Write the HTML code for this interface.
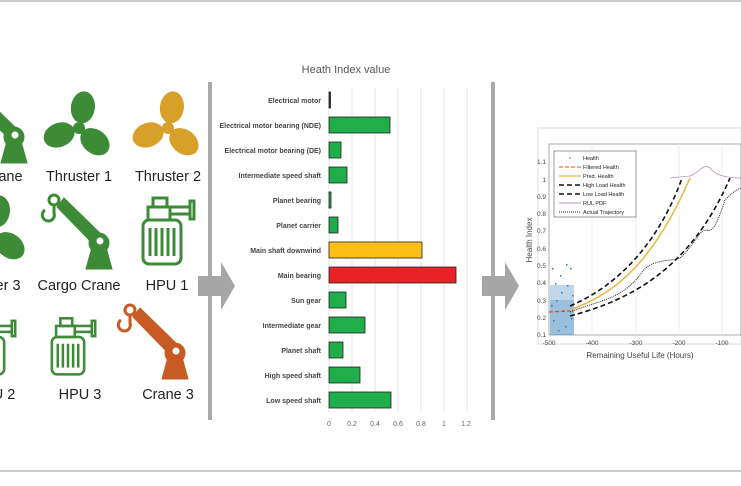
<!DOCTYPE html>
<html><head><meta charset="utf-8"><style>
body{margin:0;background:#fff;}
svg{display:block;font-family:"Liberation Sans",sans-serif;}
</style></head><body>
<svg width="741" height="486" viewBox="0 0 741 486" xmlns="http://www.w3.org/2000/svg">
<rect width="741" height="486" fill="#fff"/>
<line x1="0" y1="1" x2="741" y2="1" stroke="#999" stroke-width="1"/>
<line x1="0" y1="471" x2="741" y2="471" stroke="#999" stroke-width="1"/>
<defs>
<g id="prop"><circle cx="0" cy="0" r="6"/>
<ellipse cx="1" cy="-21" rx="12" ry="16" transform="rotate(8)"/>
<ellipse cx="1" cy="-21" rx="12" ry="16" transform="rotate(128)"/>
<ellipse cx="1" cy="-21" rx="12" ry="16" transform="rotate(248)"/></g>
<g id="crane">
<polygon points="-42,-36 -35,-45 5,-6 -3,4"/>
<polygon points="-7,4 -13,26 13,26 7,4"/>
<circle cx="0" cy="0" r="10"/>
<circle cx="1" cy="-2" r="4" fill="#fff"/>
<circle cx="-45" cy="-43" r="5" fill="none" stroke-width="3"/>
<path d="M-45,-38 L-45,-30 A6,6 0 1 1 -54,-33" fill="none" stroke-width="3"/>
</g>
<g id="hpu" fill="none" stroke-width="3">
<rect x="-19" y="0" width="38" height="44" rx="6"/>
<path d="M-12,8 v28 M-6,8 v28 M0,8 v28 M6,8 v28 M12,8 v28"/>
<rect x="-14" y="-13" width="22" height="13"/>
<rect x="-9" y="-22" width="14" height="9"/>
<rect x="8" y="-13" width="20" height="7"/>
<rect x="28" y="-19" width="4" height="18"/>
</g>
</defs>
<!-- icons -->
<g fill="#3d8b37" stroke="#3d8b37"><use href="#crane" x="14" y="137"/></g>
<g fill="#3d8b37"><use href="#prop" x="79" y="128"/></g>
<g fill="#d9a029"><use href="#prop" x="168" y="128"/></g>
<g font-size="14.5" fill="#222" text-anchor="middle">
<text x="8" y="181">rane</text><text x="79" y="181">Thruster 1</text><text x="168" y="181">Thruster 2</text>
<text x="6" y="290">ter 3</text><text x="79" y="290">Cargo Crane</text><text x="167" y="290">HPU 1</text>
<text x="4" y="399">U 2</text><text x="80" y="399">HPU 3</text><text x="168" y="399">Crane 3</text>
</g>
<g fill="#3d8b37"><use href="#prop" x="-6" y="232"/></g>
<g fill="#3d8b37" stroke="#3d8b37"><use href="#crane" x="99" y="243"/></g>
<g stroke="#3d8b37"><use href="#hpu" x="162" y="220"/></g>
<g stroke="#3d8b37"><use href="#hpu" transform="translate(-12,337) scale(0.85)"/></g>
<g stroke="#3d8b37"><use href="#hpu" transform="translate(68,337) scale(0.85)"/></g>
<g fill="#c85a24" stroke="#c85a24"><use href="#crane" x="175" y="353"/></g>
<!-- separators -->
<rect x="208" y="82" width="4" height="338" fill="#aaa"/>
<rect x="491" y="82" width="4" height="338" fill="#aaa"/>
<polygon points="198,276 221,276 221,262 235,286 221,310 221,296 198,296" fill="#a6a6a6"/>
<polygon points="482,276 505,276 505,262 519,286 505,310 505,296 482,296" fill="#a6a6a6"/>
<!-- bar chart -->
<text x="346" y="73" font-size="11" fill="#555" text-anchor="middle">Heath Index value</text>
<g stroke="#e4e4e4"><line x1="329" y1="88" x2="329" y2="412"/><line x1="352" y1="88" x2="352" y2="412"/><line x1="375" y1="88" x2="375" y2="412"/><line x1="398" y1="88" x2="398" y2="412"/><line x1="421" y1="88" x2="421" y2="412"/><line x1="444" y1="88" x2="444" y2="412"/><line x1="467" y1="88" x2="467" y2="412"/></g>
<g font-size="7" fill="#666" text-anchor="middle"><text x="329" y="426">0</text><text x="352" y="426">0.2</text><text x="375" y="426">0.4</text><text x="398" y="426">0.6</text><text x="421" y="426">0.8</text><text x="444" y="426">1</text><text x="466" y="426">1.2</text></g>
<g font-size="7" font-weight="bold" fill="#444" text-anchor="end">
<text x="321" y="103">Electrical motor</text>
<text x="321" y="128">Electrical motor bearing (NDE)</text>
<text x="321" y="153">Electrical motor bearing (DE)</text>
<text x="321" y="178">Intermediate speed shaft</text>
<text x="321" y="203">Planet bearing</text>
<text x="321" y="228">Planet carrier</text>
<text x="321" y="253">Main shaft downwind</text>
<text x="321" y="278">Main bearing</text>
<text x="321" y="303">Sun gear</text>
<text x="321" y="328">Intermediate gear</text>
<text x="321" y="353">Planet shaft</text>
<text x="321" y="378">High speed shaft</text>
<text x="321" y="403">Low speed shaft</text>
</g>
<g stroke="#222" stroke-width="0.8">
<rect x="329" y="92" width="1.5" height="16" fill="#333"/>
<rect x="329" y="117" width="61" height="16" fill="#1fae4a"/>
<rect x="329" y="142" width="12" height="16" fill="#1fae4a"/>
<rect x="329" y="167" width="18" height="16" fill="#1fae4a"/>
<rect x="329" y="192" width="2" height="16" fill="#1fae4a"/>
<rect x="329" y="217" width="9" height="16" fill="#1fae4a"/>
<rect x="329" y="242" width="93" height="16" fill="#fbbf18"/>
<rect x="329" y="267" width="127" height="16" fill="#e92228"/>
<rect x="329" y="292" width="17" height="16" fill="#1fae4a"/>
<rect x="329" y="317" width="36" height="16" fill="#1fae4a"/>
<rect x="329" y="342" width="14" height="16" fill="#1fae4a"/>
<rect x="329" y="367" width="31" height="16" fill="#1fae4a"/>
<rect x="329" y="392" width="62" height="16" fill="#1fae4a"/>
</g>
<!-- RUL plot -->
<rect x="538" y="128" width="203" height="216" fill="#fff" stroke="#ddd"/>
<rect x="549" y="144" width="192" height="191" fill="#fff" stroke="#888" stroke-width="0.7"/>
<g stroke="#eee"><line x1="592" y1="144" x2="592" y2="335"/><line x1="636" y1="144" x2="636" y2="335"/><line x1="679" y1="144" x2="679" y2="335"/><line x1="722" y1="144" x2="722" y2="335"/></g>
<g font-size="6.5" fill="#444" text-anchor="end">
<text x="546" y="164">1.1</text><text x="546" y="182">1</text><text x="546" y="199">0.9</text><text x="546" y="216">0.8</text><text x="546" y="233">0.7</text><text x="546" y="251">0.6</text><text x="546" y="268">0.5</text><text x="546" y="285">0.4</text><text x="546" y="303">0.3</text><text x="546" y="320">0.2</text><text x="546" y="337">0.1</text>
</g>
<g font-size="6.5" fill="#444" text-anchor="middle"><text x="549" y="345">-500</text><text x="592" y="345">-400</text><text x="636" y="345">-300</text><text x="679" y="345">-200</text><text x="722" y="345">-100</text></g>
<text x="640" y="358" font-size="8" fill="#444" text-anchor="middle">Remaining Useful Life (Hours)</text>
<text x="532" y="240" font-size="8" fill="#444" text-anchor="middle" transform="rotate(-90 532 240)">Health Index</text>
<g fill="#2b7bb9">
<rect x="550" y="285" width="24" height="50" opacity="0.3"/>
<rect x="550" y="300" width="24" height="35" opacity="0.25"/>
<rect x="552" y="268" width="1.5" height="1.5"/><rect x="556" y="300" width="1.5" height="1.5"/><rect x="560" y="275" width="1.5" height="1.5"/><rect x="563" y="310" width="1.5" height="1.5"/><rect x="567" y="285" width="1.5" height="1.5"/><rect x="570" y="268" width="1.5" height="1.5"/><rect x="553" y="320" width="1.5" height="1.5"/><rect x="558" y="330" width="1.5" height="1.5"/><rect x="565" y="326" width="1.5" height="1.5"/><rect x="571" y="318" width="1.5" height="1.5"/><rect x="561" y="292" width="1.5" height="1.5"/><rect x="555" y="283" width="1.5" height="1.5"/><rect x="566" y="264" width="1.5" height="1.5"/><rect x="572" y="295" width="1.5" height="1.5"/><rect x="551" y="305" width="1.5" height="1.5"/>
</g>
<polyline points="549,312 570,311" stroke="#d9531e" stroke-width="1.2" stroke-dasharray="4 2" fill="none"/>
<path d="M570,310 C610,295 650,270 690,178" stroke="#e8b53a" stroke-width="1.5" fill="none"/>
<path d="M570,306 C620,285 660,240 682,178" stroke="#111" stroke-width="1.6" stroke-dasharray="5 3" fill="none"/>
<path d="M570,316 C630,300 690,270 730,178" stroke="#111" stroke-width="1.6" stroke-dasharray="5 3" fill="none"/>
<path d="M570,312 C600,300 620,300 640,275 650,258 670,262 680,258 C690,250 700,230 705,230 C712,232 715,230 725,200 C730,195 735,190 741,188" stroke="#222" stroke-width="1" stroke-dasharray="1 1" fill="none"/>
<path d="M670,178 L690,176 C700,172 703,163 710,168 C715,175 725,178 741,178" stroke="#b79ab8" stroke-width="0.8" fill="none"/>
<rect x="554" y="151" width="82" height="66" fill="#fff" stroke="#333" stroke-width="0.5"/>
<g font-size="5.5" fill="#222">
<text x="583" y="160">Health</text><text x="583" y="169">Filtered Health</text><text x="583" y="178">Pred. Health</text><text x="583" y="187">High Load Health</text><text x="583" y="196">Low Load Health</text><text x="583" y="205">RUL PDF</text><text x="583" y="214">Actual Trajectory</text>
</g>
<circle cx="570" cy="158" r="0.7" fill="#2b7bb9"/>
<line x1="559" y1="167" x2="581" y2="167" stroke="#d9531e" stroke-dasharray="4 2"/>
<line x1="559" y1="176" x2="581" y2="176" stroke="#e8b53a" stroke-width="1.3"/>
<line x1="559" y1="185" x2="581" y2="185" stroke="#111" stroke-width="1.5" stroke-dasharray="5 3"/>
<line x1="559" y1="194" x2="581" y2="194" stroke="#111" stroke-width="1.5" stroke-dasharray="5 3"/>
<line x1="559" y1="203" x2="581" y2="203" stroke="#b79ab8"/>
<line x1="559" y1="212" x2="581" y2="212" stroke="#222" stroke-dasharray="1 1"/>
</svg>
</body></html>
